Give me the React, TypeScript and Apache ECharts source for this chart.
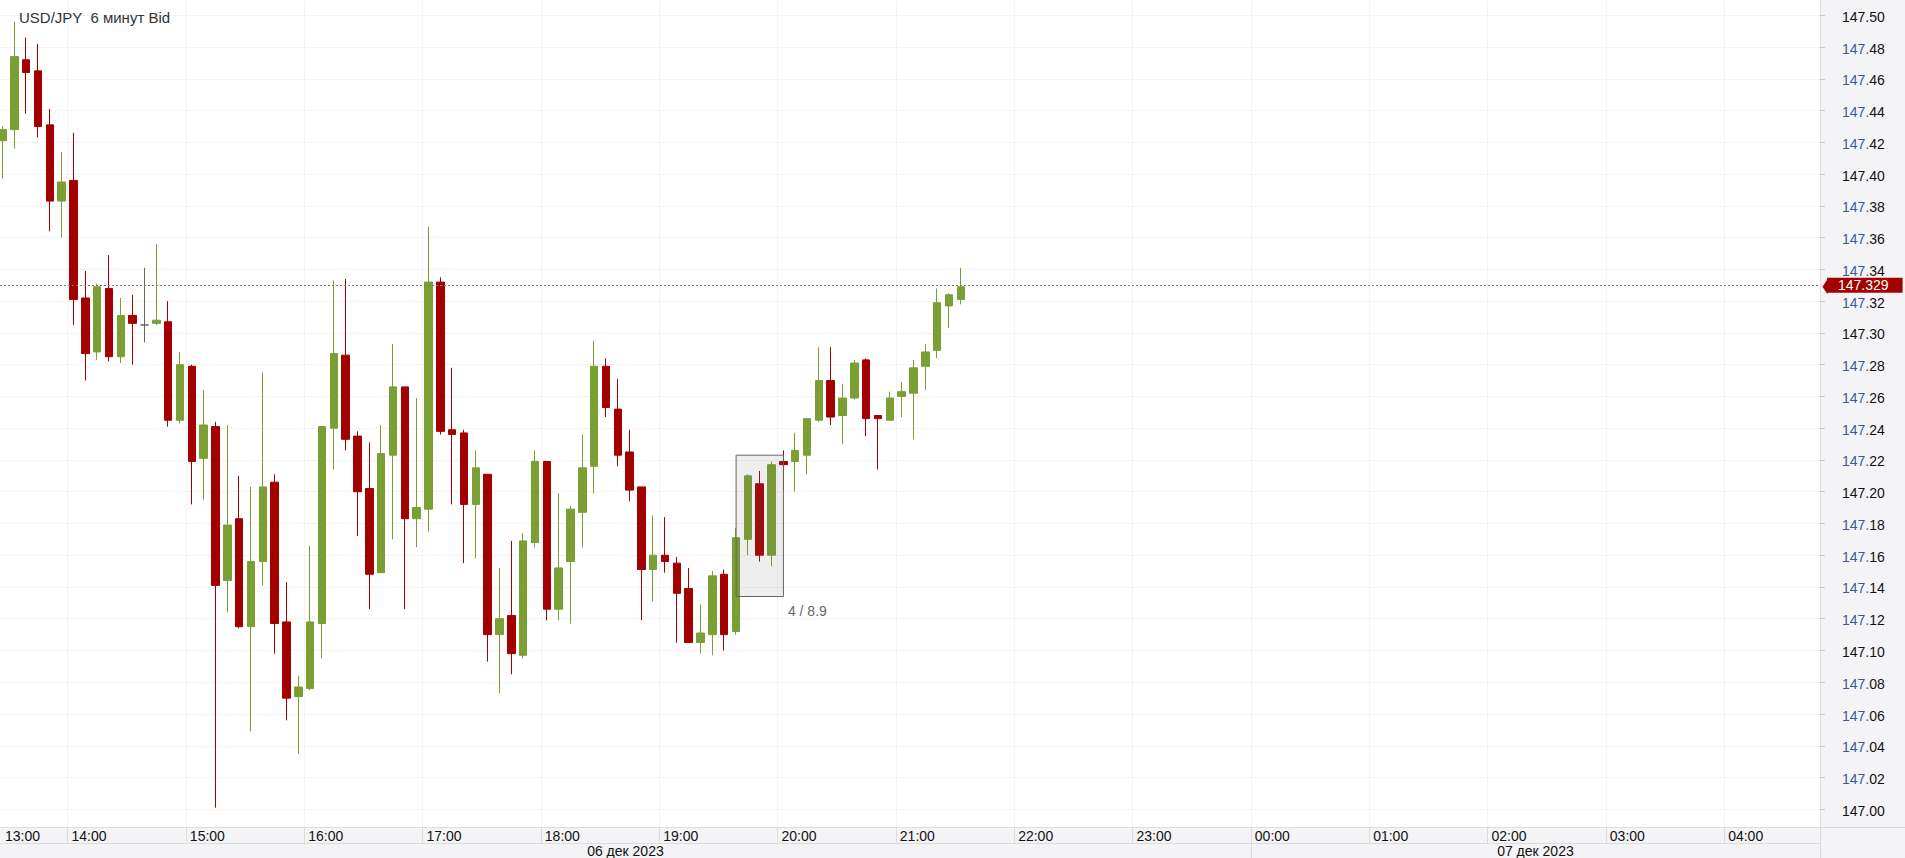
import React, { useEffect, useRef } from "react";
import * as echarts from "echarts";

// ---- data ----
const times = [
  "13:24", "13:30", "13:36", "13:42", "13:48", "13:54",
  "14:00", "14:06", "14:12", "14:18", "14:24", "14:30", "14:36", "14:42", "14:48", "14:54",
  "15:00", "15:06", "15:12", "15:18", "15:24", "15:30", "15:36", "15:42", "15:48", "15:54",
  "16:00", "16:06", "16:12", "16:18", "16:24", "16:30", "16:36", "16:42", "16:48", "16:54",
  "17:00", "17:06", "17:12", "17:18", "17:24", "17:30", "17:36", "17:42", "17:48", "17:54",
  "18:00", "18:06", "18:12", "18:18", "18:24", "18:30", "18:36", "18:42", "18:48", "18:54",
  "19:00", "19:06", "19:12", "19:18", "19:24", "19:30", "19:36", "19:42", "19:48", "19:54",
  "20:00", "20:06", "20:12", "20:18", "20:24", "20:30", "20:36", "20:42", "20:48", "20:54",
  "21:00", "21:06", "21:12", "21:18", "21:24", "21:30",
];
const opens = [
  147.421, 147.428, 147.472, 147.465, 147.431, 147.383,
  147.396, 147.322, 147.288, 147.328, 147.285, 147.311, 147.305, 147.306, 147.307, 147.245,
  147.279, 147.221, 147.241, 147.144, 147.183, 147.115, 147.156, 147.206, 147.118, 147.071,
  147.076, 147.117, 147.240, 147.286, 147.235, 147.202, 147.149, 147.223, 147.266, 147.183,
  147.189, 147.332, 147.239, 147.237, 147.192, 147.211, 147.110, 147.122, 147.097, 147.168,
  147.219, 147.126, 147.156, 147.187, 147.216, 147.279, 147.252, 147.225, 147.203, 147.151,
  147.160, 147.155, 147.139, 147.105, 147.110, 147.148, 147.112, 147.170, 147.205, 147.160,
  147.219, 147.219, 147.223, 147.245, 147.270, 147.248, 147.259, 147.283, 147.248, 147.245,
  147.260, 147.262, 147.279, 147.289, 147.317, 147.321,
];
const closes = [
  147.428, 147.474, 147.464, 147.430, 147.383, 147.395,
  147.321, 147.287, 147.329, 147.285, 147.311, 147.306, 147.305, 147.308, 147.245, 147.280,
  147.219, 147.242, 147.141, 147.179, 147.115, 147.156, 147.203, 147.117, 147.070, 147.077,
  147.118, 147.241, 147.287, 147.233, 147.200, 147.148, 147.224, 147.266, 147.183, 147.190,
  147.332, 147.238, 147.236, 147.192, 147.215, 147.110, 147.120, 147.098, 147.169, 147.219,
  147.126, 147.152, 147.189, 147.215, 147.279, 147.253, 147.223, 147.201, 147.151, 147.160,
  147.156, 147.136, 147.105, 147.111, 147.147, 147.110, 147.171, 147.210, 147.160, 147.217,
  147.217, 147.226, 147.246, 147.270, 147.247, 147.259, 147.281, 147.246, 147.246, 147.259,
  147.263, 147.278, 147.288, 147.319, 147.324, 147.329,
];
const lows = [
  147.397, 147.416, 147.438, 147.423, 147.364, 147.360,
  147.305, 147.270, 147.283, 147.282, 147.281, 147.280, 147.294, 147.305, 147.241, 147.243,
  147.192, 147.195, 147.001, 147.124, 147.114, 147.049, 147.141, 147.098, 147.056, 147.035,
  147.075, 147.095, 147.214, 147.226, 147.172, 147.126, 147.149, 147.170, 147.126, 147.165,
  147.175, 147.236, 147.192, 147.155, 147.158, 147.093, 147.073, 147.085, 147.095, 147.165,
  147.119, 147.119, 147.117, 147.165, 147.199, 147.247, 147.216, 147.194, 147.119, 147.131,
  147.149, 147.105, 147.105, 147.098, 147.097, 147.100, 147.110, 147.160, 147.156, 147.153,
  147.201, 147.200, 147.211, 147.244, 147.242, 147.230, 147.258, 147.235, 147.214, 147.245,
  147.247, 147.233, 147.264, 147.284, 147.303, 147.318,
];
const highs = [
  147.430, 147.496, 147.486, 147.482, 147.441, 147.414,
  147.426, 147.339, 147.331, 147.349, 147.322, 147.324, 147.341, 147.356, 147.320, 147.288,
  147.280, 147.264, 147.244, 147.242, 147.210, 147.203, 147.275, 147.211, 147.143, 147.084,
  147.166, 147.241, 147.333, 147.334, 147.238, 147.231, 147.242, 147.293, 147.266, 147.259,
  147.367, 147.335, 147.278, 147.239, 147.226, 147.211, 147.152, 147.169, 147.174, 147.226,
  147.219, 147.199, 147.191, 147.236, 147.295, 147.284, 147.271, 147.239, 147.203, 147.185,
  147.184, 147.159, 147.152, 147.129, 147.150, 147.151, 147.177, 147.211, 147.213, 147.219,
  147.226, 147.237, 147.246, 147.291, 147.291, 147.268, 147.283, 147.284, 147.248, 147.263,
  147.269, 147.283, 147.293, 147.328, 147.325, 147.341,
];
const xTickLabels = [
  "13:00", "14:00", "15:00", "16:00", "17:00", "18:00", "19:00", "20:00",
  "21:00", "22:00", "23:00", "00:00", "01:00", "02:00", "03:00", "04:00",
];
const dayLabels = ["06 дек 2023", "07 дек 2023"];
const yTickLabels = [
  "147.00", "147.02", "147.04", "147.06", "147.08", "147.10", "147.12", "147.14", "147.16",
  "147.18", "147.20", "147.22", "147.24", "147.26", "147.28", "147.30", "147.32", "147.34",
  "147.36", "147.38", "147.40", "147.42", "147.44", "147.46", "147.48", "147.50",
];
const lastPrice = 147.329;
const boxFrom = "19:36";
const boxTo = "20:00";
const boxHigh = 147.223;
const boxLow = 147.134;
const boxLabel = "4 / 8.9";
const titleText = "USD/JPY \u00a06 минут Bid";

// ---- view settings ----
const X_MIN = 805.77;
const X_MAX = 1728.6;
const DAY_BREAK = 1440;
const Y_MIN = 146.98885;
const Y_MAX = 147.50963;
const GREEN = "#7a9f32";
const RED = "#a30000";
const FONT = "'Liberation Sans', Arial, sans-serif";

const toMin = (s: string) => {
  const [h, m] = s.split(":").map(Number);
  let v = h * 60 + m;
  if (h < 12) v += 1440;
  return v;
};
const center = (s: string) => toMin(s) + 3;

export default function App() {
  const ref = useRef<HTMLDivElement>(null);
  useEffect(() => {
    if (!ref.current) return;
    const chart = echarts.init(ref.current, undefined, { renderer: "svg" });
    const candles = times.map((t, i) => [center(t), opens[i], closes[i], lows[i], highs[i]]);
    const hourVals = xTickLabels.map(toMin).filter((v) => v >= X_MIN && v <= X_MAX);
    const yVals = yTickLabels.map(Number);
    const dayMid = [(X_MIN + DAY_BREAK) / 2, (DAY_BREAK + X_MAX) / 2];
    const labelMap: Record<string, string> = {};
    xTickLabels.forEach((l) => (labelMap[String(toMin(l))] = l));

    chart.setOption({
      animation: false,
      backgroundColor: "#f4f4f6",
      title: {
        text: titleText,
        left: 19,
        top: 10,
        padding: 0,
        textStyle: { fontSize: 15, fontWeight: "normal", color: "#333", fontFamily: FONT },
      },
      grid: {
        left: 0,
        right: 85,
        top: 0,
        bottom: 31,
        show: true,
        backgroundColor: "#ffffff",
        borderWidth: 0,
      },
      xAxis: [
        {
          type: "value",
          min: X_MIN,
          max: X_MAX,
          position: "bottom",
          axisLine: { show: true, lineStyle: { color: "#dcdcdc" } },
          axisTick: {
            show: true,
            customValues: [...hourVals, X_MAX],
            length: 16,
            lineStyle: { color: "#dcdcdc" },
          },
          axisLabel: {
            customValues: hourVals,
            formatter: (v: number) => labelMap[String(Math.round(v))] || "",
            align: "left",
            padding: [0, 0, 0, 4],
            margin: 2,
            fontSize: 14,
            color: "#111",
            fontFamily: FONT,
          },
          splitLine: { show: true, lineStyle: { color: "#f3f3f3" } },
        },
        {
          type: "value",
          min: X_MIN,
          max: X_MAX,
          position: "bottom",
          offset: 16,
          axisLine: { show: true, lineStyle: { color: "#dcdcdc" } },
          axisTick: {
            show: true,
            customValues: [DAY_BREAK, X_MAX],
            length: 15,
            lineStyle: { color: "#dcdcdc" },
          },
          axisLabel: {
            customValues: dayMid,
            formatter: (v: number) => (v < DAY_BREAK ? dayLabels[0] : dayLabels[1]),
            margin: 1,
            fontSize: 14,
            color: "#111",
            fontFamily: FONT,
          },
          splitLine: { show: false },
        },
      ],
      yAxis: {
        type: "value",
        position: "right",
        min: Y_MIN,
        max: Y_MAX,
        axisLine: { show: true, lineStyle: { color: "#dcdcdc" } },
        axisTick: {
          show: true,
          customValues: yVals,
          length: 5,
          lineStyle: { color: "#c8c8c8" },
        },
        axisLabel: {
          customValues: yVals,
          margin: 22,
          padding: [3, 0, 0, 0],
          formatter: (v: number) => {
            const s = v.toFixed(2);
            if (s.endsWith("0")) return `{k|${s}}`;
            return `{b|${s.slice(0, 4)}}{k|${s.slice(4)}}`;
          },
          rich: {
            k: { fontSize: 14, color: "#111", fontFamily: FONT },
            b: { fontSize: 14, color: "#3b5b8e", fontFamily: FONT },
          },
        },
        splitLine: { show: true, lineStyle: { color: "#f3f3f3" } },
      },
      graphic: [
        {
          type: "text",
          left: 5,
          top: 829,
          silent: true,
          style: { text: xTickLabels[0], fontSize: 14, fill: "#111", fontFamily: FONT },
        },
        {
          type: "line",
          silent: true,
          shape: { x1: 1820, y1: 827.5, x2: 1905, y2: 827.5 },
          style: { stroke: "#dcdcdc", lineWidth: 1 },
        },
      ],
      series: [
        {
          type: "candlestick",
          xAxisIndex: 0,
          yAxisIndex: 0,
          barWidth: 8,
          encode: { x: 0, y: [1, 2, 3, 4] },
          data: candles,
          itemStyle: {
            color: GREEN,
            color0: RED,
            borderColor: GREEN,
            borderColor0: RED,
            borderColorDoji: "#666666",
            borderWidth: 1,
          },
          markLine: {
            silent: true,
            symbol: ["none", "none"],
            animation: false,
            lineStyle: { color: "#777", type: [2, 2], width: 1 },
            label: {
              show: true,
              position: "end",
              distance: 7,
              formatter: lastPrice.toFixed(3),
              color: "#fff",
              backgroundColor: RED,
              padding: [1, 14, 0, 11],
              lineHeight: 14,
              fontSize: 14,
              fontFamily: FONT,
            },
            data: [{ yAxis: lastPrice }],
          },
          markPoint: {
            silent: true,
            animation: false,
            symbol: "triangle",
            symbolSize: [15, 5],
            symbolRotate: 90,
            symbolOffset: [5, 0],
            itemStyle: { color: RED },
            label: { show: false },
            data: [{ coord: [X_MAX - 0.01, lastPrice] }],
          },
          markArea: {
            silent: true,
            z: 3,
            animation: false,
            itemStyle: {
              color: "rgba(117,117,117,0.12)",
              borderColor: "#666",
              borderWidth: 1,
            },
            label: {
              show: true,
              position: ["100%", "100%"],
              padding: [7, 0, 0, 4],
              formatter: boxLabel,
              color: "#666",
              fontSize: 14,
              fontFamily: FONT,
            },
            data: [[{ coord: [center(boxFrom), boxHigh] }, { coord: [center(boxTo), boxLow] }]],
          },
        },
      ],
    });
    return () => chart.dispose();
  }, []);
  return (
    <div
      ref={ref}
      style={{ position: "fixed", left: 0, top: 0, width: 1905, height: 858 }}
    />
  );
}
